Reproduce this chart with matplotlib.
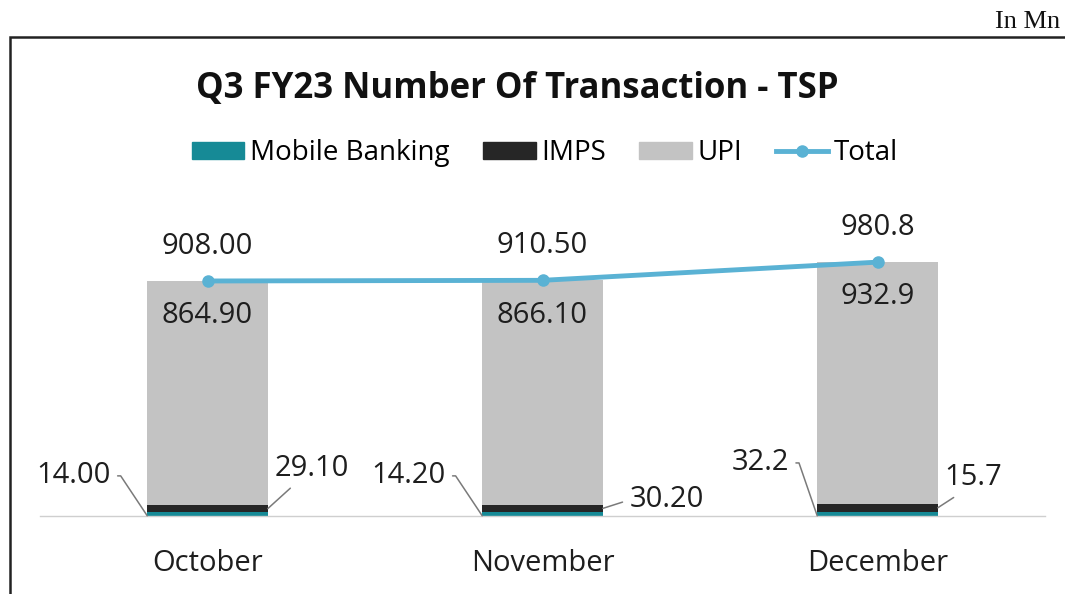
import matplotlib
matplotlib.use("Agg")
import matplotlib.pyplot as plt
from matplotlib.patches import Rectangle
from matplotlib.lines import Line2D
import numpy as np

plt.rcParams['font.family'] = ['Open Sans', 'DejaVu Sans']

months = ['October', 'November', 'December']
mobile_banking = [14.00, 14.20, 15.7]
imps = [29.10, 30.20, 32.2]
upi = [864.90, 866.10, 932.9]
total = [908.00, 910.50, 980.8]

# label texts as printed on the chart
left_labels = ['14.00', '14.20', '32.2']
right_labels = ['29.10', '30.20', '15.7']
upi_labels = ['864.90', '866.10', '932.9']
total_labels = ['908.00', '910.50', '980.8']

# label positions (x offset from bar centre, y in data units)
left_pos = [(-0.40, 155), (-0.40, 155), (-0.35, 205)]
right_pos = [(0.31, 185), (0.37, 62), (0.285, 147)]
right_rel = [(0.3, 0.0), (0.0, 0.5), (0.3, 0.0)]

c_mb = '#168a96'
c_imps = '#262626'
c_upi = '#c3c3c3'
c_total = '#5ab2d4'
c_txt = '#1e1e1e'

fig = plt.figure(figsize=(10.65, 5.94), dpi=100)
fig.patch.set_facecolor('white')
ax = fig.add_axes([40 / 1065, 78 / 594, 1005 / 1065, 310.6 / 594])

x = np.arange(len(months))
w = 0.36
mb = np.array(mobile_banking)
im = np.array(imps)
ax.bar(x, mb, w, color=c_mb)
ax.bar(x, im, w, bottom=mb, color=c_imps)
ax.bar(x, upi, w, bottom=mb + im, color=c_upi)
ax.plot(x, total, color=c_total, lw=3.5, marker='o', ms=8, zorder=3)

ax.set_xlim(-0.5, 2.5)
ax.set_ylim(0, 1200)
for s in ['top', 'left', 'right']:
    ax.spines[s].set_visible(False)
ax.spines['bottom'].set_color('#cfcfcf')
ax.spines['bottom'].set_linewidth(1)
ax.set_yticks([])
ax.set_xticks(x)
ax.set_xticklabels(months, fontsize=21, color=c_txt)
ax.tick_params(axis='x', length=0, pad=24)

fs = 21
lead = dict(arrowstyle='-', color='#7a7a7a', lw=1.1, shrinkA=3, shrinkB=0)
for i in range(len(months)):
    ax.annotate(total_labels[i], (x[i], total[i]), xytext=(0, 25),
                textcoords='offset points', ha='center', va='center',
                fontsize=fs, color=c_txt)
    ax.annotate(upi_labels[i], (x[i], total[i]), xytext=(0, -25),
                textcoords='offset points', ha='center', va='center',
                fontsize=fs, color=c_txt)
    ax.annotate(left_labels[i], (x[i] - w / 2, 1),
                xytext=(x[i] + left_pos[i][0], left_pos[i][1]),
                ha='center', va='center', fontsize=fs, color=c_txt,
                arrowprops=dict(lead, relpos=(1.0, 0.5),
                                connectionstyle='arc,angleA=0,armA=10,angleB=90,armB=0,rad=0'))
    ax.annotate(right_labels[i], (x[i] + w / 2, mb[i] + im[i] / 2),
                xytext=(x[i] + right_pos[i][0], right_pos[i][1]),
                ha='center', va='center', fontsize=fs, color=c_txt,
                arrowprops=dict(lead, relpos=right_rel[i]))

handles = [Rectangle((0, 0), 1, 1, color=c_mb), Rectangle((0, 0), 1, 1, color=c_imps),
           Rectangle((0, 0), 1, 1, color=c_upi),
           Line2D([], [], color=c_total, lw=3.5, marker='o', ms=8)]
fig.legend(handles, ['Mobile Banking', 'IMPS', 'UPI', 'Total'],
           loc='center', bbox_to_anchor=(545 / 1065, 1 - 153 / 594),
           ncol=4, frameon=False, fontsize=20, handlelength=1.9,
           handleheight=0.55, columnspacing=1.2, handletextpad=0.2)

fig.text(517 / 1065, 1 - 89 / 594, 'Q3 FY23 Number Of Transaction - TSP',
         ha='center', va='center', fontsize=25, fontweight='bold', color='#111111')
fig.text(1060 / 1065, 1 - 22 / 594, 'In Mn', ha='right', va='center',
         fontsize=19, family='Liberation Serif', color='#111111')

# outer frame
fig.patches.append(Rectangle((10 / 1065, -0.05), 1.1, 1 - 37 / 594 + 0.05,
                             transform=fig.transFigure, fill=False,
                             edgecolor='#222222', lw=1.8))

fig.savefig('out.png', dpi=100)
